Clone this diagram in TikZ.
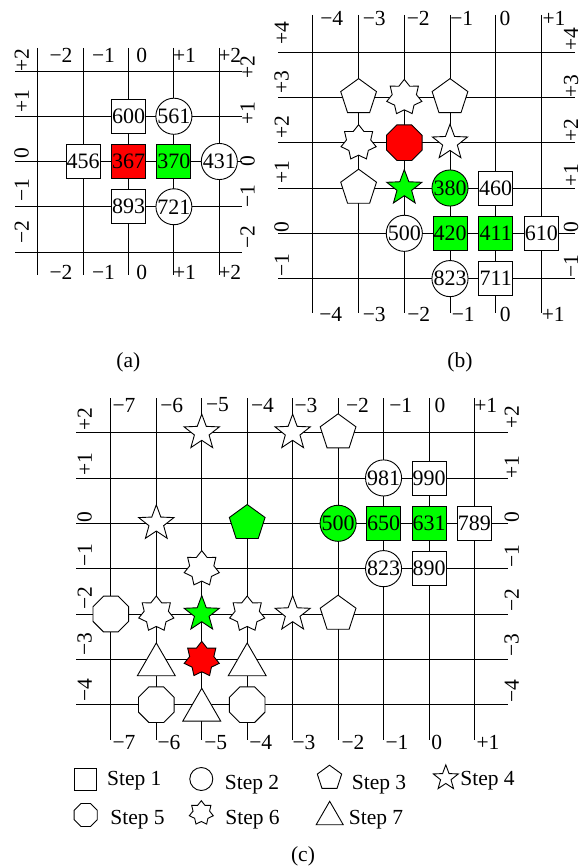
\documentclass[tikz,border=0pt]{standalone}
\usepackage{fontspec}
\setmainfont{Liberation Serif}
\usetikzlibrary{shapes.geometric}
\tikzset{
  gridline/.style={line width=0.9pt},
  shp/.style={draw, line width=0.9pt, fill=white, inner sep=0pt, font=\fontsize{22}{22}\selectfont},
  sq/.style={shp, rectangle, minimum size=34pt},
  circ/.style={shp, circle, minimum size=35pt},
  pent/.style={shp, regular polygon, regular polygon sides=5, minimum size=37.6pt},
  octa/.style={shp, regular polygon, regular polygon sides=8, minimum size=38.6pt},
  tri/.style={shp, regular polygon, regular polygon sides=3, minimum size=#1, yshift={-(#1)/8}},
  tri/.default=43.8pt,
  fstar/.style={shp, star, star points=5, star point ratio=2.4, minimum size=37pt},
  sstar/.style={shp, star, star points=7, star point ratio=1.45, minimum size=36pt},
  gfill/.style={fill=green},
  rfill/.style={fill=red},
  lbl/.style={inner sep=0pt, font=\fontsize{21.5}{21.5}\selectfont},
  rlbl/.style={lbl, rotate=90},
}
\begin{document}
\begin{tikzpicture}[x=1pt,y=-1pt]
\useasboundingbox (0,0) rectangle (582,867);

% ---------------- panel (a) ----------------
\foreach \c in {-2,...,2} {
  \draw[gridline] ({128.5+45.4*\c},48) -- ({128.5+45.4*\c},275);
  \foreach \r in {-2,...,2} {
    \coordinate (A\c_\r) at ({128.5+45.4*\c},{161.5-45.25*\r});
  }
}
\foreach \r in {-2,...,2}
  \draw[gridline] (15,{161.5-45.25*\r}) -- (242,{161.5-45.25*\r});

\node[sq] (a600) at (A0_1) {600};
\node[circ] (a561) at (A1_1) {561};
\node[sq] (a456) at (A-1_0) {456};
\node[sq,rfill] (a367) at (A0_0) {367};
\node[sq,gfill] (a370) at (A1_0) {370};
\node[circ] (a431) at (A2_0) {431};
\node[sq] (a893) at (A0_-1) {893};
\node[circ] (a721) at (A1_-1) {721};

\foreach \t/\x [count=\i] in {−2/61, −1/103.5, 0/141.7, +1/184.5, +2/229.7} {
  \node[lbl] (atop\i) at (\x,55.5) {\t};
  \node[lbl] (abot\i) at (\x,272.5) {\t};
}
\foreach \t/\y [count=\i] in {+2/60, +1/100.8, 0/153.3, −1/190, −2/232.5}
  \node[rlbl] (aleft\i) at (21.7,\y) {\t};
\foreach \t/\y [count=\i] in {+2/66.7, +1/113.3, 0/160.8, −1/195.8, −2/237.5}
  \node[rlbl] (aright\i) at (247.5,\y) {\t};

\node[lbl] (capa) at (128.3,362) {(a)};

% ---------------- panel (b) ----------------
\foreach \c in {-4,...,1} {
  \draw[gridline] ({495.7+45.7*\c},15) -- ({495.7+45.7*\c},313);
  \foreach \r in {-1,...,4} {
    \coordinate (B\c_\r) at ({495.7+45.7*\c},{233.3-45.3*\r});
  }
}
\foreach \r in {-1,...,4}
  \draw[gridline] (278,{233.3-45.3*\r}) -- (575,{233.3-45.3*\r});

\node[pent] (bp1) at (B-3_3) {};
\node[sstar] (bs1) at (B-2_3) {};
\node[pent] (bp2) at (B-1_3) {};
\node[sstar] (bs2) at (B-3_2) {};
\node[octa,rfill] (bo1) at (B-2_2) {};
\node[fstar] (bf1) at (B-1_2) {};
\node[pent] (bp3) at (B-3_1) {};
\node[fstar,gfill] (bf2) at (B-2_1) {};
\node[circ,gfill] (b380) at (B-1_1) {380};
\node[sq] (b460) at (B0_1) {460};
\node[circ] (b500) at (B-2_0) {500};
\node[sq,gfill] (b420) at (B-1_0) {420};
\node[sq,gfill] (b411) at (B0_0) {411};
\node[sq] (b610) at (B1_0) {610};
\node[circ] (b823) at (B-1_-1) {823};
\node[sq] (b711) at (B0_-1) {711};

\foreach \t/\x [count=\i] in {−4/331.7, −3/374.2, −2/418.3, −1/461.7, 0/505, +1/554}
  \node[lbl] (btop\i) at (\x,18.3) {\t};
\foreach \t/\x [count=\i] in {−4/330.8, −3/374.2, −2/418.8, −1/463.3, 0/505.3, +1/553.3}
  \node[lbl] (bbot\i) at (\x,314) {\t};
\foreach \t/\y [count=\i] in {+4/33, +3/81.7, +2/126.7, +1/172, 0/227.5, −1/265}
  \node[rlbl] (bleft\i) at (281.7,\y) {\t};
\foreach \t/\y [count=\i] in {+4/39, +3/86, +2/130, +1/175, 0/226.7, −1/266}
  \node[rlbl] (bright\i) at (571,\y) {\t};

\node[lbl] (capb) at (460,362) {(b)};

% ---------------- panel (c) ----------------
\foreach \c in {-7,...,1} {
  \draw[gridline] ({429+45.45*\c},398) -- ({429+45.45*\c},740);
  \foreach \r in {-4,...,2} {
    \coordinate (C\c_\r) at ({429+45.45*\c},{523.3-45.35*\r});
  }
}
\foreach \r in {-4,...,2}
  \draw[gridline] (76,{523.3-45.35*\r}) -- (508,{523.3-45.35*\r});

\node[fstar] (cf1) at (C-5_2) {};
\node[fstar] (cf2) at (C-3_2) {};
\node[pent] (cp1) at (C-2_2) {};
\node[circ] (c981) at (C-1_1) {981};
\node[sq] (c990) at (C0_1) {990};
\node[fstar] (cf3) at (C-6_0) {};
\node[pent,gfill] (cp2) at (C-4_0) {};
\node[circ,gfill] (c500) at (C-2_0) {500};
\node[sq,gfill] (c650) at (C-1_0) {650};
\node[sq,gfill] (c631) at (C0_0) {631};
\node[sq] (c789) at (C1_0) {789};
\node[sstar] (cs1) at (C-5_-1) {};
\node[circ] (c823) at (C-1_-1) {823};
\node[sq] (c890) at (C0_-1) {890};
\node[octa] (co1) at (C-7_-2) {};
\node[sstar] (cs2) at (C-6_-2) {};
\node[fstar,gfill] (cf4) at (C-5_-2) {};
\node[sstar] (cs3) at (C-4_-2) {};
\node[fstar] (cf5) at (C-3_-2) {};
\node[pent] (cp3) at (C-2_-2) {};
\node[tri] (ct1) at (C-6_-3) {};
\node[sstar,rfill] (cs4) at (C-5_-3) {};
\node[tri] (ct2) at (C-4_-3) {};
\node[octa] (co2) at (C-6_-4) {};
\node[tri] (ct3) at (C-5_-4) {};
\node[octa] (co3) at (C-4_-4) {};

\foreach \t/\x [count=\i] in {−7/124, −6/171.7, −5/217.5, −4/262.5, −3/306, −2/357.5, −1/400.7, 0/440, +1/485.7}
  \node[lbl] (ctop\i) at (\x,405) {\t};
\foreach \t/\x [count=\i] in {−7/124, −6/169, −5/215.7, −4/260.7, −3/304, −2/353, −1/397, 0/436.7, +1/488}
  \node[lbl] (cbot\i) at (\x,742.5) {\t};
\foreach \t/\y [count=\i] in {+2/419, +1/464, 0/516.7, −1/555, −2/598.3, −3/644, −4/690}
  \node[rlbl] (cleft\i) at (84.7,\y) {\t};
\foreach \t/\y [count=\i] in {+2/416.7, +1/467.5, 0/516.7, −1/555.8, −2/600, −3/645, −4/690.8}
  \node[rlbl] (cright\i) at (511.7,\y) {\t};

% legend
\node[sq, minimum size=22pt] (k1) at (85,779) {};
\node[lbl, anchor=base] (k1t) at (134.3,785.7) {Step 1};
\node[circ, minimum size=23pt] (k2) at (201.3,779) {};
\node[lbl, anchor=base] (k2t) at (252,789.3) {Step 2};
\node[pent, minimum size=25.6pt] (k3) at (329.5,778) {};
\node[lbl, anchor=base] (k3t) at (379,789.3) {Step 3};
\node[fstar, minimum size=26.3pt] (k4) at (445.8,778) {};
\node[lbl, anchor=base] (k4t) at (487.5,785.7) {Step 4};
\node[octa, minimum size=24.9pt] (k5) at (85.7,815) {};
\node[lbl, anchor=base] (k5t) at (137.5,824) {Step 5};
\node[sstar, minimum size=24.6pt] (k6) at (201.3,813) {};
\node[lbl, anchor=base] (k6t) at (252.5,824) {Step 6};
\node[tri=31.2pt] (k7) at (329.7,813) {};
\node[lbl, anchor=base] (k7t) at (376,824) {Step 7};

\node[lbl] (capc) at (303,856) {(c)};
\end{tikzpicture}
\end{document}
